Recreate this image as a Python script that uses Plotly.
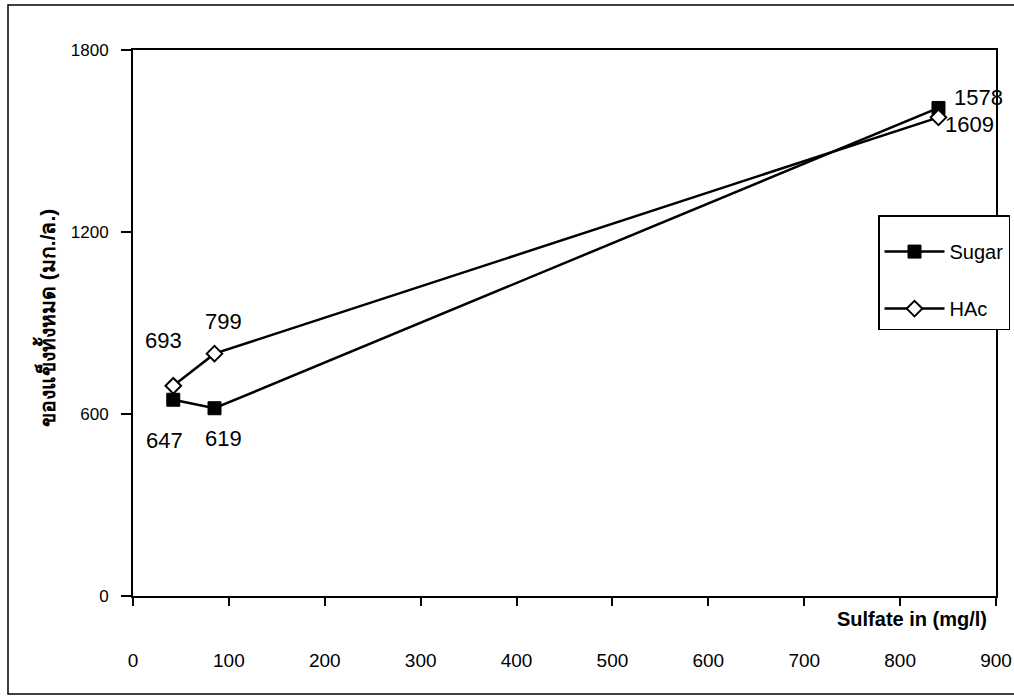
import plotly.graph_objects as go

# Sulfate concentration in the feed (mg/l)
sulfate = [42, 85, 840]

# Total solids (mg/l) for each carbon source
sugar_ts = [647, 619, 1609]
hac_ts = [693, 799, 1578]

series_names = ["Sugar", "HAc"]
x_ticks = [0, 100, 200, 300, 400, 500, 600, 700, 800, 900]
y_ticks = [0, 600, 1200, 1800]

FONT = "Arial, Liberation Sans, sans-serif"

W, H = 1014, 697
L, R, T, B = 133, 18, 50, 101


def px_x(p):
    return (p - L) / (W - L - R)


def px_y(p):
    return (H - B - p) / (H - T - B)


fig = go.Figure()

fig.add_trace(go.Scatter(
    x=sulfate, y=sugar_ts, name=series_names[0], mode="lines+markers",
    line=dict(color="black", width=2.5),
    marker=dict(symbol="square", size=13, color="black",
                line=dict(color="black", width=1)),
    legendgroup="a",
))
fig.add_trace(go.Scatter(
    x=sulfate, y=hac_ts, name=series_names[1], mode="lines+markers",
    line=dict(color="black", width=2.5),
    marker=dict(symbol="diamond", size=12, color="white",
                line=dict(color="black", width=2)),
    legendgroup="b",
))

# Value labels beside each point (pixel offsets per point)
sugar_shift = [(-9, -41), (9, -30), (31, -17)]
hac_shift = [(-10, 45), (9, 32), (40, 20)]
annotations = []
for xs, ys, shifts in ((sulfate, sugar_ts, sugar_shift), (sulfate, hac_ts, hac_shift)):
    for xv, yv, (dx, dy) in zip(xs, ys, shifts):
        annotations.append(dict(
            x=xv, y=yv, xref="x", yref="y", text=str(yv), showarrow=False,
            xshift=dx, yshift=dy, font=dict(family=FONT, size=22, color="black"),
        ))

# X-axis title sits inside the chart, above the tick labels
annotations.append(dict(
    x=px_x(912), y=px_y(619), xref="paper", yref="paper",
    xanchor="center", yanchor="middle",
    text="<b>Sulfate in (mg/l)</b>", showarrow=False,
    font=dict(family=FONT, size=20, color="black"),
))
# Rotated Thai y-axis title
annotations.append(dict(
    x=px_x(45), y=px_y(318), xref="paper", yref="paper",
    xanchor="center", yanchor="middle",
    text="<b>ของแข็งทั้งหมด (มก./ล.)</b>", showarrow=False, textangle=-90,
    font=dict(family=FONT, size=21, color="black"),
))

fig.update_layout(
    width=W, height=H,
    margin=dict(l=L, r=R, t=T, b=B, autoexpand=False),
    paper_bgcolor="white", plot_bgcolor="white",
    font=dict(family=FONT, color="black"),
    showlegend=True,
    legend=dict(
        x=px_x(878), y=px_y(215), xanchor="left", yanchor="top",
        bgcolor="white", bordercolor="black", borderwidth=1.5,
        font=dict(family=FONT, size=20, color="black"),
        title=dict(text=" ", font=dict(size=12)),
        tracegroupgap=28, itemwidth=60,
        entrywidth=126, entrywidthmode="pixels",
    ),
    annotations=annotations,
    shapes=[dict(
        type="rect", xref="paper", yref="paper",
        x0=px_x(8), x1=px_x(1020), y0=px_y(694), y1=px_y(5),
        line=dict(color="black", width=1.5), layer="below",
    )],
)

fig.update_xaxes(
    range=[0, 900], tickvals=x_ticks, ticktext=[str(v) for v in x_ticks],
    showgrid=False, zeroline=False, showline=True, mirror=True,
    linecolor="black", linewidth=2, ticks="outside", ticklen=8,
    tickwidth=1.5, tickcolor="black", ticklabelstandoff=38, automargin=False,
    tickfont=dict(family=FONT, size=19, color="black"),
)
fig.update_yaxes(
    range=[0, 1800], tickvals=y_ticks, ticktext=[str(v) for v in y_ticks],
    showgrid=False, zeroline=False, showline=True, mirror=True,
    linecolor="black", linewidth=2, ticks="outside", ticklen=10,
    tickwidth=1.5, tickcolor="black", ticklabelstandoff=9, automargin=False,
    tickfont=dict(family=FONT, size=17, color="black"),
)

fig.write_html("out.html")
